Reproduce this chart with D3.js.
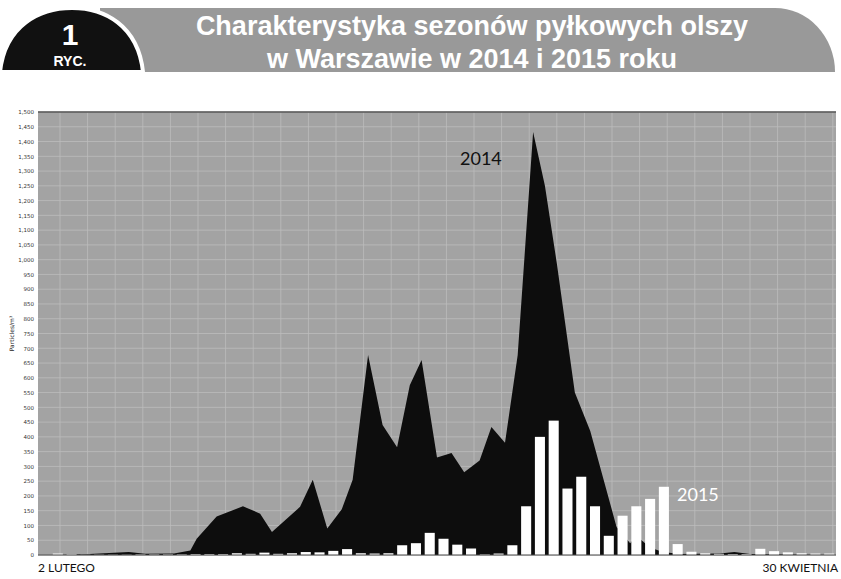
<!DOCTYPE html>
<html><head><meta charset="utf-8">
<script src="https://cdn.jsdelivr.net/npm/d3@7"></script>
<style>body{margin:0;background:#fff}svg{display:block}</style>
</head><body>
<script>
const title1 = "Charakterystyka sezonów pyłkowych olszy";
const title2 = "w Warszawie w 2014 i 2015 roku";
const xStartLabel = "2 LUTEGO", xEndLabel = "30 KWIETNIA";
const yTicks = d3.range(0, 1501, 50);
// 2014 series: day index (from 2 Feb) and value
const days2014 = [0,2.4,5.7,10,11.8,15,16.8,17.5,19.7,22.6,24.5,25.8,28.9,30.3,31.9,33.5,34.7,36.4,38,39.6,41,42.3,44,45.6,47,48.7,50,51.5,52.9,54.6,55.9,57.2,59.2,60.9,63.8,65.3,66,67.5,68.9,70.8,75.2,76.8,78.5,88];
const vals2014 = [0,0,3,10,4,5,15,55,130,165,140,78,163,255,90,155,255,677,440,365,575,660,330,345,280,320,433,380,677,1432,1250,990,550,420,95,40,64,25,10,3,5,10,3,0];
// 2015 series: bars
const vals2015 = [5,3,1,1,1,1,2,2,2,2,3,3,3,6,4,8,4,6,10,9,14,20,6,5,6,33,40,75,55,35,22,2,5,33,165,400,455,225,265,165,65,133,165,190,231,37,11,6,4,3,3,21,13,9,6,5,5];

const W=841,H=579;
const svg=d3.select("body").append("svg").attr("width",W).attr("height",H);
// header
svg.append("path").attr("fill","#999")
 .attr("d","M100,8 H775 A60,64 0 0 1 835,72 H100 Z");
svg.append("path").attr("fill","#111").attr("stroke","#fff").attr("stroke-width",4)
 .attr("d","M0,72 C5,25 40,8 72,8 C104,8 138,25 143,72 Z");
svg.append("text").attr("x",70).attr("y",45).attr("text-anchor","middle").attr("fill","#fff")
 .attr("font-family","Liberation Sans, Arial").attr("font-weight","bold").attr("font-size",30).text("1");
svg.append("text").attr("x",70).attr("y",66).attr("text-anchor","middle").attr("fill","#fff")
 .attr("font-family","Liberation Sans, Arial").attr("font-weight","bold").attr("font-size",14).text("RYC.");
[[title1,35],[title2,68]].forEach(([t,y])=>svg.append("text").attr("x",472).attr("y",y).attr("text-anchor","middle")
 .attr("fill","#fff").attr("font-family","Liberation Sans, Arial").attr("font-weight","bold").attr("font-size",27).text(t));

const L=38,R=836,T=112,B=555;
const y=d3.scaleLinear().domain([0,1500]).range([B,T]);
const x=d3.scaleLinear().domain([0,88]).range([L,R]);
const xb=d3.scaleBand().domain(d3.range(vals2015.length)).range([51,836]).paddingInner(0.27).paddingOuter(0.13);
svg.append("rect").attr("x",L).attr("y",T).attr("width",R-L).attr("height",B-T).attr("fill","#a3a3a3");
const g=svg.append("g");
g.selectAll(".h").data(yTicks).join("line").attr("x1",L).attr("x2",R).attr("y1",d=>y(d)).attr("y2",d=>y(d))
 .attr("stroke","#bdbdbd").attr("stroke-width",0.8);
g.selectAll(".v").data(d3.range(0,29)).join("line").attr("x1",d=>L+22+d*27.6).attr("x2",d=>L+22+d*27.6)
 .attr("y1",T).attr("y2",B).attr("stroke","#bdbdbd").attr("stroke-width",0.8);
svg.append("line").attr("x1",L).attr("x2",R).attr("y1",T).attr("y2",T).attr("stroke","#555").attr("stroke-width",1.5);

const pts=days2014.map((d,i)=>[d,vals2014[i]]);
svg.append("path").datum(pts).attr("fill","#0d0d0d")
 .attr("d",d3.area().x(d=>x(d[0])).y0(y(0)).y1(d=>y(d[1])));
svg.selectAll(".bar").data(vals2015).join("rect")
 .attr("x",(d,i)=>xb(i)).attr("width",xb.bandwidth()).attr("y",d=>y(d)).attr("height",d=>y(0)-y(d))
 .attr("fill","#fff");
svg.append("line").attr("x1",L).attr("x2",R).attr("y1",B).attr("y2",B).attr("stroke","#444");

const ax=svg.append("g").attr("transform",`translate(${L},0)`).call(d3.axisLeft(y).tickValues(yTicks).tickSize(0).tickPadding(4).tickFormat(d3.format(",")));
ax.select(".domain").remove();
ax.selectAll("text").attr("font-size",5.5).attr("fill","#333").attr("font-family","DejaVu Sans");
svg.append("text").attr("transform",`translate(14,${(T+B)/2}) rotate(-90)`).attr("text-anchor","middle")
 .attr("font-size",6).attr("font-family","DejaVu Sans").attr("fill","#222").text("Particles/m³");
svg.append("text").attr("x",38).attr("y",572).attr("font-family","Lato, DejaVu Sans").attr("font-size",12).attr("fill","#111").text(xStartLabel);
svg.append("text").attr("x",838).attr("y",572).attr("text-anchor","end").attr("font-family","Lato, DejaVu Sans").attr("font-size",12).attr("fill","#111").text(xEndLabel);
svg.append("text").attr("x",460).attr("y",165).attr("font-family","Lato, DejaVu Sans").attr("font-size",18).attr("fill","#111").text("2014");
svg.append("text").attr("x",677).attr("y",501).attr("font-family","Lato, DejaVu Sans").attr("font-size",18).attr("fill","#fff").text("2015");
</script>
</body></html>
